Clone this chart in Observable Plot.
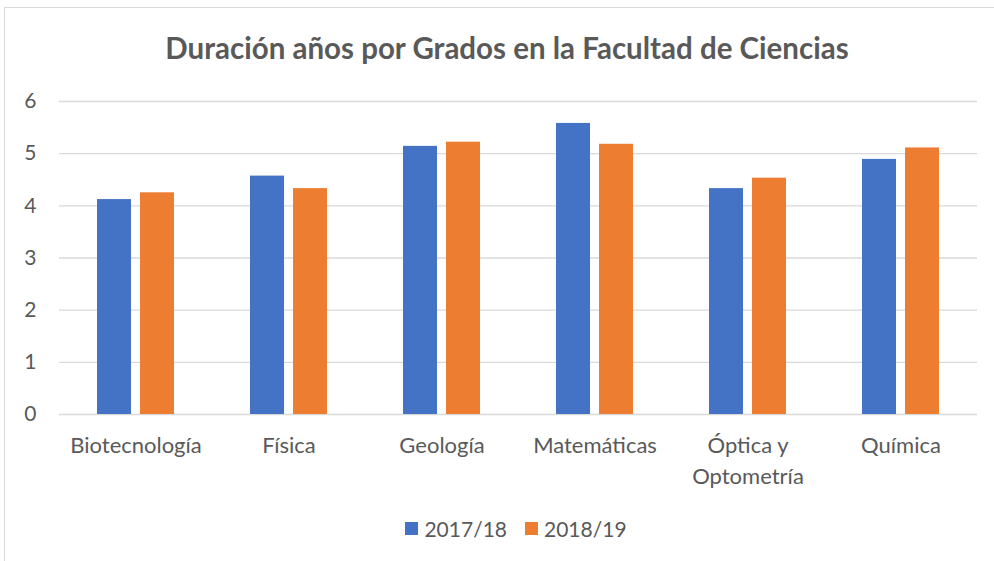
<!DOCTYPE html>
<html>
<head>
<meta charset="utf-8">
<script src="https://cdn.jsdelivr.net/npm/d3@7"></script>
<script src="https://cdn.jsdelivr.net/npm/@observablehq/plot@0.6"></script>
<style>
  html, body { margin:0; padding:0; background:#fff; overflow:hidden; }
  #wrap { position:relative; width:994px; height:561px; font-family:Lato, sans-serif; }
  #frame { position:absolute; left:4px; top:7px; width:1000px; height:600px; border:1px solid #d9d9d9; box-sizing:border-box; }
  #title { position:absolute; left:0; width:1014px; top:30px; text-align:center; font-weight:bold; font-size:29.5px; color:#595959; }
  #chart { position:absolute; left:0; top:80px; }
  #legend { position:absolute; left:0; width:1032px; top:516px; display:flex; justify-content:center; align-items:center; font-size:21px; color:#595959; }
  .item { display:flex; align-items:center; margin:0 9px; }
  .sw { width:13px; height:13px; margin-right:6px; }
</style>
</head>
<body>
<div id="wrap">
  <div id="frame"></div>
  <div id="title">Duración años por Grados en la Facultad de Ciencias</div>
  <div id="chart"></div>
  <div id="legend"></div>
</div>
<script>
const categories = ["Biotecnología", "Física", "Geología", "Matemáticas", "Óptica y\nOptometría", "Química"];
const series = ["2017/18", "2018/19"];
const colors = ["#4472c4", "#ed7d31"];
const values2017 = [4.12, 4.57, 5.14, 5.58, 4.33, 4.89];
const values2018 = [4.25, 4.33, 5.22, 5.18, 4.53, 5.11];
const yTicks = [0, 1, 2, 3, 4, 5, 6];

const data = categories.flatMap((c, i) => [
  {cat: c, serie: series[0], value: values2017[i]},
  {cat: c, serie: series[1], value: values2018[i]}
]);

const chart = Plot.plot({
  width: 994,
  height: 425,
  marginLeft: 59,
  marginRight: 17,
  marginTop: 21,
  marginBottom: 91,
  style: {fontFamily: "Lato, sans-serif", fontSize: "21px", color: "#595959", background: "transparent"},
  fx: {domain: categories, padding: 0, label: null, axis: null},
  x: {domain: series, paddingInner: 0.21, paddingOuter: 0.88, axis: null},
  y: {domain: [0, 6], axis: null},
  color: {domain: series, range: colors},
  marks: [
    Plot.ruleY(yTicks, {stroke: "#d9d9d9", strokeWidth: 1.3}),
    Plot.axisY({ticks: yTicks, tickFormat: "d", tickSize: 0, tickPadding: 23, label: null, fill: "#595959"}),
    Plot.barY(data, {fx: "cat", x: "serie", y: "value", fill: "serie"}),
    Plot.axisFx({anchor: "bottom", tickSize: 0, tickPadding: 17, lineHeight: 1.4, fontSize: 22, label: null, fill: "#595959"})
  ]
});
document.getElementById("chart").appendChild(chart);

const legend = document.getElementById("legend");
series.forEach((s, i) => {
  const it = document.createElement("div");
  it.className = "item";
  it.innerHTML = `<span class="sw" style="background:${colors[i]}"></span><span>${s}</span>`;
  legend.appendChild(it);
});
</script>
</body>
</html>
